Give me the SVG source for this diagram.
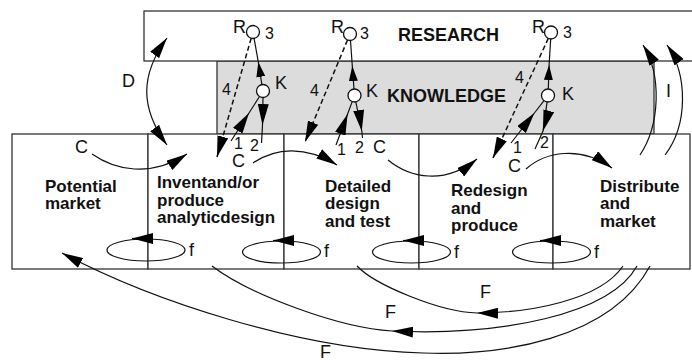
<svg xmlns="http://www.w3.org/2000/svg" width="692" height="360" viewBox="0 0 692 360">
<style>
.box{fill:#fff;stroke:#333;stroke-width:1.3}
.kbox{fill:#dcdcdc;stroke:#333;stroke-width:1.3}
.nt{font-family:"Liberation Sans",Arial,sans-serif;font-weight:bold;font-size:17px;fill:#111}
.hd{font-family:"Liberation Sans",Arial,sans-serif;font-weight:bold;font-size:18px;fill:#111}
.lb{font-family:"Liberation Sans",Arial,sans-serif;font-size:18px;fill:#111}
.dg{font-family:"Liberation Sans",Arial,sans-serif;font-size:16px;fill:#111}
.ln{fill:none;stroke:#111;stroke-width:1.2}
.ds{fill:none;stroke:#111;stroke-width:1.5;stroke-dasharray:5 3}
.nd{fill:#fff;stroke:#111;stroke-width:1.3}
.end{marker-end:url(#ah)}
.mid{marker-mid:url(#ah)}
.smid{marker-mid:url(#as)}
</style>
<defs>
<marker id="ah" markerUnits="userSpaceOnUse" viewBox="0 0 21 11" markerWidth="21" markerHeight="11" refX="21" refY="5.5" orient="auto"><path d="M0,0 L21,5.5 L0,11 z" fill="#000"/></marker>
<marker id="as" markerUnits="userSpaceOnUse" viewBox="0 0 15 9" markerWidth="15" markerHeight="9" refX="15" refY="4.5" orient="auto"><path d="M0,0 L15,4.5 L0,9 z" fill="#000"/></marker>
<marker id="ad" markerUnits="userSpaceOnUse" viewBox="0 0 21 11" markerWidth="21" markerHeight="11" refX="21" refY="5.5" orient="auto-start-reverse"><path d="M0,0 L21,5.5 L0,11 z" fill="#000"/></marker>
</defs>

<g id="knowledge">
<rect class="kbox" x="217" y="61" width="437" height="73"/>
<text class="hd" x="387" y="102">KNOWLEDGE</text>
</g>
<g id="research">
<rect class="box" x="144" y="11" width="560" height="50"/>
<text class="hd" x="398" y="41">RESEARCH</text>
</g>

<g id="potential-market">
<rect class="box" x="12" y="134" width="136" height="135"/>
<text class="nt" x="45" y="192">Potential</text>
<text class="nt" x="45" y="209">market</text>
</g>
<g id="invent">
<rect class="box" x="148" y="134" width="136" height="135"/>
<text class="nt" x="157" y="188">Inventand/or</text>
<text class="nt" x="157" y="206">produce</text>
<text class="nt" x="157" y="223">analyticdesign</text>
</g>
<g id="detailed">
<rect class="box" x="284" y="134" width="135" height="135"/>
<text class="nt" x="325" y="192">Detailed</text>
<text class="nt" x="325" y="209">design</text>
<text class="nt" x="325" y="227">and test</text>
</g>
<g id="redesign">
<rect class="box" x="419" y="134" width="134" height="135"/>
<text class="nt" x="451" y="196">Redesign</text>
<text class="nt" x="451" y="214">and</text>
<text class="nt" x="451" y="231">produce</text>
</g>
<g id="distribute">
<rect class="box" x="553" y="134" width="137" height="135"/>
<text class="nt" x="600" y="192">Distribute</text>
<text class="nt" x="600" y="209">and</text>
<text class="nt" x="600" y="227">market</text>
</g>

<g id="connectors">
<path class="ln" d="M167,38 C140,75 140,108 167,145" marker-start="url(#ad)" marker-end="url(#ad)"/>
<path class="ln end" d="M640,155 C660,125 662,75 643,45"/>
<path class="ln end" d="M665,155 C688,125 688,75 667,45"/>
<path class="ln end" d="M92,154 C115,170 150,178 187,154"/>
<path class="ln end" d="M253,163 C275,148 305,145 337,165"/>
<path class="ln end" d="M388,160 C410,178 445,185 477,159"/>
<path class="ln end" d="M526,169 C545,152 580,145 612,168"/>
<path class="ds end" d="M251.2,38.2 L217,157"/>
<path class="ds end" d="M347.5,40 L305,142"/>
<path class="ds end" d="M548.3,38.4 L493,158"/>
<path class="ln smid" d="M261.9,84.6 L258.3,62 L254.1,38.4"/>
<path class="ln smid" d="M354,89 L352.3,66 L350.5,40.5"/>
<path class="ln smid" d="M548.3,89 L549.1,65 L550.7,39"/>
<path class="ln mid" d="M231,141 L249,113 L259.5,96.5"/>
<path class="ln mid" d="M336,145 L347.6,114 L352.2,101.6"/>
<path class="ln mid" d="M511,143 L534.4,113 L544,100.6"/>
<path class="ln mid" d="M263,97.5 L262.5,125 L261.5,143"/>
<path class="ln mid" d="M355.8,101.9 L361.8,131 L362.5,138"/>
<path class="ln mid" d="M547.1,101.9 L543,131 L535,149"/>
<ellipse class="ln" cx="146" cy="250" rx="39" ry="11"/>
<ellipse class="ln" cx="281.5" cy="252" rx="39" ry="11"/>
<ellipse class="ln" cx="411.5" cy="252" rx="39" ry="11"/>
<ellipse class="ln" cx="551.5" cy="252" rx="39" ry="11"/>
<path class="ln end" d="M153,238.5 L132,238.5"/>
<path class="ln end" d="M294,240.5 L273,240.5"/>
<path class="ln end" d="M424,240.5 L403,240.5"/>
<path class="ln end" d="M561,240.5 L540,240.5"/>
<path class="ln mid" d="M623,266 C600,300 530,313 477,313 C440,312 375,285 357,266"/>
<path class="ln mid" d="M637,266 C610,315 500,336 392,331 C340,328 250,295 212,266"/>
<path class="ln end" d="M650,266 C610,340 500,356 423,353 C300,350 150,300 62,253"/>
</g>

<g id="labels">
<text class="lb" x="122" y="87">D</text>
<text class="lb" x="666" y="97">I</text>
<text class="lb" x="75" y="153">C</text>
<text class="lb" x="232" y="167">C</text>
<text class="lb" x="373" y="153">C</text>
<text class="lb" x="508" y="172">C</text>
<text class="lb" x="189" y="256">f</text>
<text class="lb" x="324" y="257">f</text>
<text class="lb" x="454" y="258">f</text>
<text class="lb" x="594" y="258">f</text>
<text class="lb" x="480" y="298">F</text>
<text class="lb" x="385" y="318">F</text>
<text class="lb" x="320" y="358">F</text>
<text class="dg" x="222" y="95">4</text>
<text class="dg" x="310" y="96">4</text>
<text class="dg" x="515" y="83">4</text>
<text class="dg" x="234" y="149">1</text>
<text class="dg" x="337" y="155">1</text>
<text class="dg" x="513" y="153">1</text>
<text class="dg" x="250" y="151">2</text>
<text class="dg" x="355" y="153">2</text>
<text class="dg" x="540" y="148">2</text>
</g>

<g id="node-r1"><circle class="nd" cx="253" cy="32" r="6.5"/><text class="lb" x="233" y="33">R</text><text class="dg" x="265" y="39">3</text></g>
<g id="node-r2"><circle class="nd" cx="350" cy="34" r="6.5"/><text class="lb" x="331" y="33">R</text><text class="dg" x="360" y="39">3</text></g>
<g id="node-r3"><circle class="nd" cx="551" cy="32.5" r="6.5"/><text class="lb" x="532" y="33">R</text><text class="dg" x="563" y="38">3</text></g>
<g id="node-k1"><circle class="nd" cx="263" cy="91" r="6.5"/><text class="lb" x="275" y="89">K</text></g>
<g id="node-k2"><circle class="nd" cx="354.5" cy="95.5" r="6.5"/><text class="lb" x="366" y="97">K</text></g>
<g id="node-k3"><circle class="nd" cx="548" cy="95.5" r="6.5"/><text class="lb" x="562" y="100">K</text></g>
</svg>
